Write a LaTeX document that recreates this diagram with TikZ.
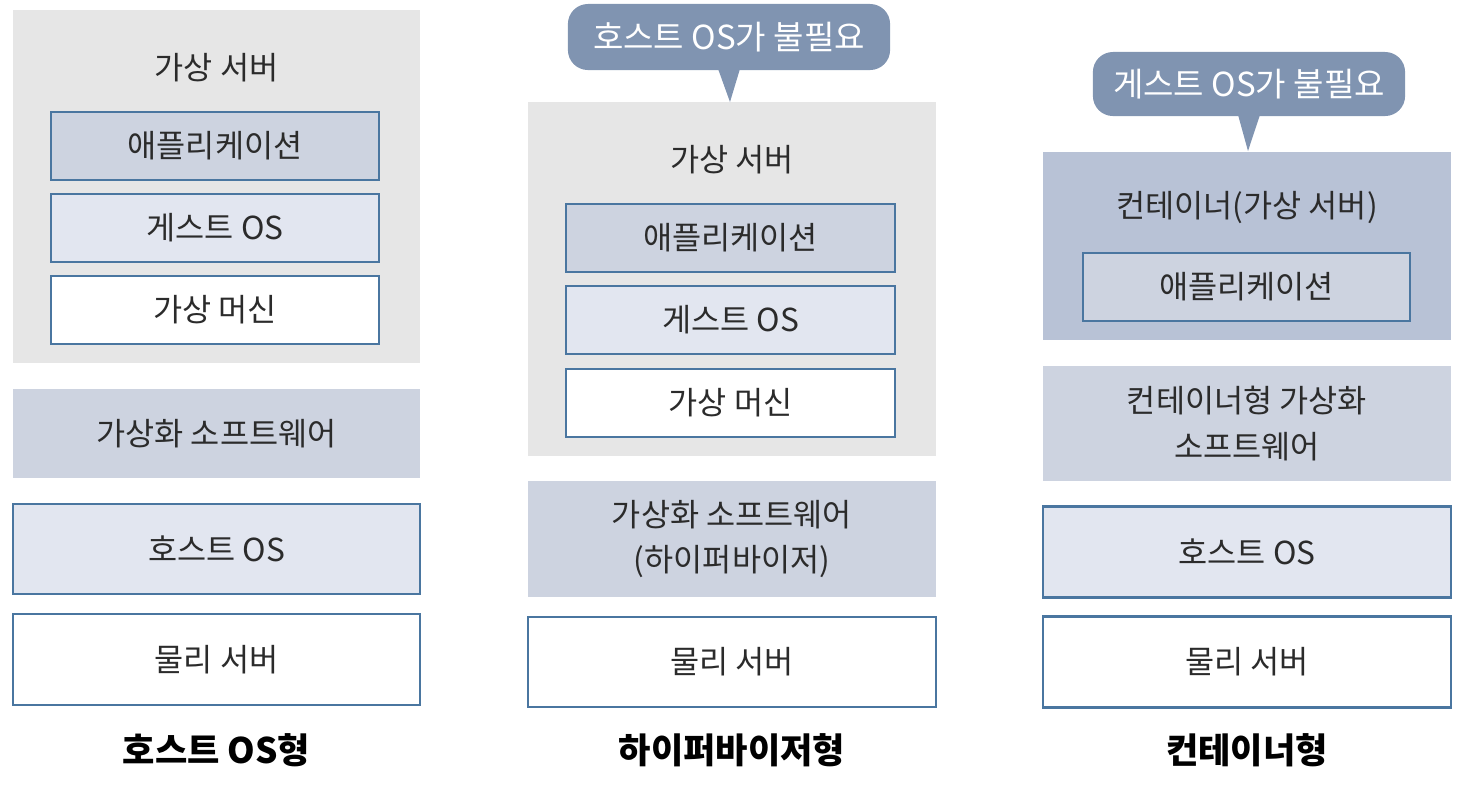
\documentclass[tikz,border=0pt]{standalone}
\usepackage{fontspec}
\setmainfont{Noto Sans CJK KR}
\usetikzlibrary{positioning}
\definecolor{servergray}{HTML}{E6E6E6}
\definecolor{layerdark}{HTML}{CDD3E0}
\definecolor{layerlight}{HTML}{E2E6F0}
\definecolor{containerblue}{HTML}{B8C2D6}
\definecolor{edgeblue}{HTML}{4A76A0}
\definecolor{calloutblue}{HTML}{8094B1}
\definecolor{inktext}{HTML}{2B2B2B}
\tikzset{
  layer/.style={minimum width=4.07cm, inner sep=0pt, align=center,
    text=inktext, font=\fontsize{9}{13}\selectfont},
  inlayer/.style={layer, draw=edgeblue, line width=0.6pt,
    minimum width=3.28cm, minimum height=0.68cm},
  framed/.style={draw=edgeblue, line width=0.6pt},
  caption/.style={text=inktext, font=\fontsize{9}{11}\selectfont},
  typetitle/.style={text=black, font=\fontsize{10}{12}\selectfont\bfseries},
  callout/.style={fill=calloutblue, rounded corners=0.2cm, text=white,
    inner sep=0pt, font=\fontsize{9.4}{11}\selectfont}
}
\begin{document}
\begin{tikzpicture}[x=0.01cm,y=-0.01cm]
\useasboundingbox (0,0) rectangle (1481,787);
% host OS type
\node[layer, fill=servergray, minimum height=3.53cm] (srv1) at (216.5,186.5) {};
\node[caption] (lbl1) at (216.5,68) {가상 서버};
\node[inlayer, fill=layerdark] (app1) at (215,146) {애플리케이션};
\node[inlayer, fill=layerlight] (guest1) at (215,228) {게스트 OS};
\node[inlayer, fill=white] (vm1) at (215,310) {가상 머신};
\node[layer, fill=layerdark, minimum height=0.89cm] (virt1) at (216.5,433.5) {가상화 소프트웨어};
\node[layer, framed, fill=layerlight, minimum height=0.9cm] (host1) at (216.5,549) {호스트 OS};
\node[layer, framed, fill=white, minimum height=0.91cm] (hw1) at (216.5,659.5) {물리 서버};
\node[typetitle] (title1) at (216.5,750) {호스트 OS형};
% hypervisor type
\node[layer, fill=servergray, minimum height=3.54cm] (srv2) at (732,279) {};
\node[caption] (lbl2) at (732,160) {가상 서버};
\node[inlayer, fill=layerdark] (app2) at (730.5,238) {애플리케이션};
\node[inlayer, fill=layerlight] (guest2) at (730.5,320) {게스트 OS};
\node[inlayer, fill=white] (vm2) at (730.5,403) {가상 머신};
\node[layer, fill=layerdark, minimum height=1.16cm] (virt2) at (732,539) {가상화 소프트웨어\\(하이퍼바이저)};
\node[layer, framed, fill=white, minimum height=0.9cm] (hw2) at (732,662) {물리 서버};
\node[typetitle] (title2) at (732,750) {하이퍼바이저형};
\node[callout, minimum width=3.22cm, minimum height=0.66cm] (note2) at (729,37) {호스트 OS가 불필요};
\coordinate (tip2) at (730,102);
\fill[calloutblue] ([shift={(-0.11cm,0.02cm)}]note2.south) -- (tip2) -- ([shift={(0.11cm,0.02cm)}]note2.south) -- cycle;
% container type
\node[layer, fill=containerblue, minimum height=1.88cm] (cont3) at (1247,246) {};
\node[caption] (lbl3) at (1247,208) {컨테이너(가상 서버)};
\node[inlayer, fill=layerdark, minimum width=3.27cm] (app3) at (1246.5,287) {애플리케이션};
\node[layer, fill=layerdark, minimum height=1.15cm] (virt3) at (1247,423.5) {컨테이너형 가상화\\소프트웨어};
\node[layer, framed, fill=layerlight, minimum height=0.91cm] (host3) at (1247,552) {호스트 OS};
\node[layer, framed, fill=white, minimum height=0.91cm] (hw3) at (1247,662) {물리 서버};
\node[typetitle] (title3) at (1247,750) {컨테이너형};
\node[callout, minimum width=3.12cm, minimum height=0.64cm] (note3) at (1249,84) {게스트 OS가 불필요};
\coordinate (tip3) at (1248,151);
\fill[calloutblue] ([shift={(-0.11cm,0.02cm)}]note3.south) -- (tip3) -- ([shift={(0.11cm,0.02cm)}]note3.south) -- cycle;
\end{tikzpicture}
\end{document}
